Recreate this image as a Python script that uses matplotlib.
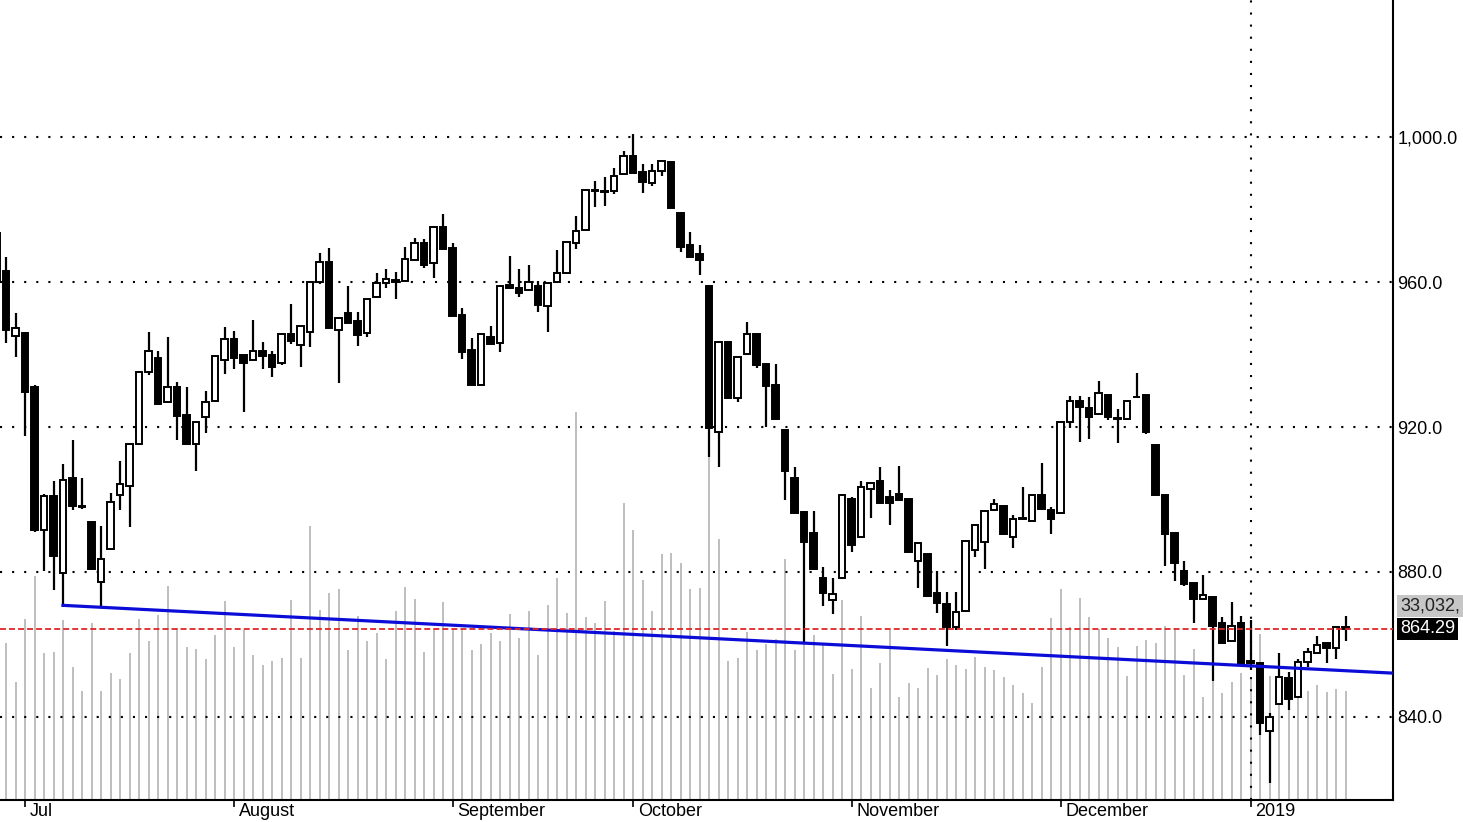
import matplotlib
matplotlib.use('Agg')
import matplotlib.pyplot as plt
import numpy as np

plt.rcParams['font.family'] = ['Liberation Sans', 'DejaVu Sans']

# daily candles, first one is only partly on screen
opens = [973.6, 963.0, 945.1, 946.0, 931.1, 891.6, 901.0, 879.8, 906.0, 898.3,
         893.9, 877.2, 886.3, 901.2, 903.7, 915.2, 935.3, 938.9, 926.9, 931.1,
         923.3, 915.2, 922.7, 927.2, 938.4, 944.4, 939.9, 938.4, 941.0, 939.9,
         937.6, 945.6, 942.5, 946.3, 959.9, 965.4, 946.8, 951.4, 949.3, 946.0,
         955.8, 959.8, 960.5, 960.4, 966.1, 970.8, 965.3, 975.3, 969.3, 950.9,
         941.2, 931.6, 944.7, 943.3, 959.3, 958.4, 957.8, 958.9, 953.4, 959.9,
         962.4, 970.7, 974.4, 985.3, 985.2, 985.2, 989.8, 994.8, 990.3, 987.2,
         990.5, 993.2, 979.1, 970.1, 967.6, 958.9, 918.5, 943.5, 928.1, 940.1,
         945.6, 937.4, 931.6, 919.2, 905.8, 896.5, 890.7, 878.3, 872.3, 878.4,
         900.1, 889.6, 902.8, 905.1, 900.6, 901.4, 900.1, 883.1, 884.9, 874.1,
         871.2, 864.8, 869.3, 886.1, 888.4, 897.1, 898.2, 889.6, 895.0, 894.2,
         901.2, 897.1, 896.2, 921.5, 927.3, 925.2, 923.6, 928.7, 922.4, 922.2,
         928.4, 928.7, 915.0, 901.2, 890.7, 880.3, 876.9, 872.6, 873.2, 865.9,
         861.1, 865.9, 855.5, 854.8, 836.2, 843.6, 850.7, 845.5, 855.1, 857.6,
         860.3, 858.9, 864.7]
highs = [975.0, 966.9, 951.4, 946.3, 931.5, 901.5, 905.1, 909.7, 916.4, 906.0,
         894.2, 892.7, 901.7, 910.6, 915.6, 935.5, 946.1, 941.0, 944.9, 932.4,
         931.1, 921.5, 929.9, 940.0, 947.7, 946.5, 940.0, 949.5, 943.5, 941.0,
         946.0, 953.9, 948.0, 960.3, 967.9, 969.3, 950.4, 958.9, 951.7, 955.4,
         962.6, 963.5, 962.7, 969.6, 972.1, 971.9, 975.5, 978.7, 970.8, 952.9,
         944.5, 945.8, 947.9, 959.1, 967.2, 963.5, 964.7, 960.3, 959.8, 968.8,
         971.3, 978.3, 985.6, 987.9, 989.0, 991.5, 996.1, 1000.7, 992.5, 992.5,
         993.7, 993.4, 979.3, 973.8, 970.1, 959.1, 943.7, 943.7, 939.6, 949.0,
         945.8, 937.6, 937.3, 919.4, 909.0, 896.7, 896.8, 881.5, 878.4, 901.4,
         900.8, 905.1, 904.8, 908.9, 902.6, 909.3, 900.3, 888.3, 885.1, 880.4,
         874.4, 874.4, 888.8, 893.2, 897.0, 900.1, 898.4, 895.7, 903.5, 901.4,
         910.0, 898.0, 921.7, 928.6, 928.6, 928.2, 932.8, 928.9, 924.9, 927.5,
         934.8, 928.9, 915.2, 901.4, 890.9, 883.1, 877.1, 879.2, 873.4, 867.5,
         871.8, 867.9, 866.8, 855.0, 841.2, 857.7, 852.3, 856.0, 859.1, 862.3,
         860.5, 865.1, 867.9]
lows = [958.0, 943.2, 939.4, 917.5, 891.0, 880.4, 875.0, 870.4, 897.0, 897.5,
        880.5, 870.4, 886.0, 897.0, 892.5, 915.0, 934.3, 926.2, 926.5, 916.4,
        915.0, 908.0, 918.4, 927.0, 934.5, 935.9, 924.2, 938.2, 935.9, 933.9,
        937.2, 942.9, 936.6, 942.1, 959.4, 947.2, 932.1, 948.6, 942.4, 944.9,
        955.6, 958.3, 955.2, 960.2, 965.9, 963.9, 961.0, 968.8, 950.5, 938.7,
        931.4, 931.3, 942.7, 940.8, 958.1, 955.8, 957.6, 951.6, 946.1, 959.7,
        962.2, 969.0, 974.2, 980.6, 981.0, 984.3, 989.6, 990.0, 984.6, 986.5,
        989.2, 980.3, 968.4, 966.8, 961.8, 911.8, 909.0, 927.7, 927.0, 939.9,
        936.2, 920.1, 922.0, 900.0, 896.0, 860.8, 880.6, 870.6, 868.4, 878.2,
        885.6, 889.4, 894.8, 898.7, 892.9, 899.7, 885.2, 875.5, 873.2, 868.8,
        859.7, 864.1, 869.1, 884.0, 880.8, 897.0, 890.2, 886.5, 894.4, 894.0,
        897.2, 890.5, 896.0, 919.6, 915.9, 916.7, 923.4, 922.0, 915.5, 922.0,
        928.0, 918.2, 901.0, 881.7, 877.5, 876.2, 865.9, 872.4, 850.0, 860.3,
        860.9, 854.6, 853.0, 835.0, 821.7, 843.4, 841.9, 845.3, 853.7, 857.4,
        854.8, 856.0, 860.9]
closes = [960.6, 946.8, 947.4, 929.6, 891.6, 901.0, 884.4, 905.4, 898.3, 898.0,
          880.8, 883.5, 899.2, 904.2, 915.4, 935.3, 941.0, 926.4, 931.1, 923.0,
          915.2, 921.3, 927.0, 939.6, 944.4, 938.9, 937.6, 941.0, 939.6, 936.6,
          945.6, 943.8, 947.9, 960.1, 965.4, 947.4, 950.2, 948.8, 945.4, 955.2,
          959.6, 960.9, 960.0, 966.3, 970.8, 964.8, 975.3, 969.0, 950.7, 940.8,
          931.6, 945.6, 942.9, 958.9, 958.3, 957.0, 960.0, 953.6, 959.6, 962.6,
          971.1, 974.2, 985.4, 985.0, 984.8, 989.3, 994.8, 990.2, 987.7, 990.6,
          993.5, 980.5, 969.7, 967.0, 966.1, 919.6, 943.5, 927.9, 939.4, 945.6,
          937.1, 931.3, 922.2, 907.9, 896.2, 888.2, 880.8, 874.1, 873.9, 901.2,
          887.4, 903.4, 904.6, 898.9, 898.9, 899.9, 885.4, 888.1, 873.4, 871.4,
          864.8, 869.0, 888.6, 893.0, 896.8, 898.8, 890.4, 894.6, 894.7, 901.2,
          897.4, 894.5, 921.5, 927.3, 925.6, 922.7, 929.5, 922.7, 922.2, 927.3,
          928.2, 918.5, 901.2, 890.5, 882.6, 876.7, 872.5, 873.7, 865.2, 860.5,
          865.2, 854.8, 855.0, 838.3, 840.0, 851.1, 844.9, 855.3, 857.8, 859.9,
          858.9, 864.9, 864.29]
# volume in thousands
volumes = [45000, 47700, 35800, 54800, 68000, 44500, 44900, 54500, 40400, 33100,
           53500, 33100, 38600, 36800, 44500, 54800, 48200, 56100, 64900, 52000,
           46300, 45800, 42600, 50000, 60300, 46300, 51500, 43900, 40800, 42200,
           43100, 60600, 43100, 83000, 57600, 62600, 64000, 45500, 55800, 48200,
           50700, 42600, 57300, 64500, 60800, 44900, 51900, 60000, 51800, 51900,
           45500, 47200, 50500, 48200, 56400, 49100, 57300, 43900, 59100, 67200,
           56600, 117700, 55500, 53500, 60300, 51300, 89900, 81800, 66700, 57300,
           74500, 74900, 71700, 63900, 64200, 104500, 79000, 42200, 42900, 50800,
           45400, 47200, 48700, 72900, 45500, 57600, 50000, 47500, 38200, 60600,
           39600, 55800, 33800, 41400, 51500, 31300, 35500, 33800, 39900, 37900,
           42600, 40900, 39700, 43400, 40400, 39400, 37300, 34800, 32400, 29400,
           40300, 55200, 63900, 52400, 61200, 55500, 51800, 49100, 46400, 37600,
           46700, 48500, 47600, 52700, 52100, 37900, 45800, 31200, 39400, 32400,
           35800, 38500, 37000, 50300, 37600, 33300, 27300, 31200, 33000, 34800,
           32700, 33600, 33032]

month_idx = [3, 25, 48, 67, 90, 112, 132]
month_labels = ['Jul', 'August', 'September', 'October', 'November', 'December', '2019']
year_idx = 132
price_ticks = [840, 880, 920, 960, 1000]
last_price = 864.29
last_volume_text = '33,032,'
trend_idx = [7, 147]
trend_price = [870.8, 852.1]

W, H = 1463, 822
fig = plt.figure(figsize=(W / 100, H / 100), dpi=100)
rect = [0, 22 / H, 1393 / W, 800 / H]
xlim = (0.368, 147.0)

x = np.arange(len(opens))
o = np.array(opens)
c = np.array(closes)

# volume underneath
axv = fig.add_axes(rect)
axv.vlines(x, 0, volumes, color='#b9b9b9', linewidth=1.3)
axv.set_xlim(*xlim)
axv.set_ylim(0, 242400)
axv.axis('off')

ax = fig.add_axes(rect, facecolor='none')
ax.set_xlim(*xlim)
ax.set_ylim(817.1, 1037.8)

# dotted grid
for p in price_ticks:
    ax.axhline(p, color='black', linewidth=1.5, linestyle=(0, (1, 4.8)), zorder=1)
ax.axvline(year_idx, color='black', linewidth=1.5, linestyle=(0, (1, 4.8)), zorder=1)

# candles
ax.vlines(x, lows, highs, color='black', linewidth=1.6, zorder=3)
down = c < o
ax.bar(x, np.abs(c - o), bottom=np.minimum(o, c), width=0.68,
       color=np.where(down, 'black', 'white'), edgecolor='black',
       linewidth=1.4, zorder=4)

# trend line and last price
ax.plot(trend_idx, trend_price, color='#0c0cd8', linewidth=2.3, zorder=5)
ax.axhline(last_price, color='#e02626', linewidth=1.3,
           linestyle=(0, (3.3, 1.7)), zorder=5)

# axes styling
for s in ['top', 'left']:
    ax.spines[s].set_visible(False)
ax.spines['right'].set_linewidth(1.5)
ax.spines['bottom'].set_linewidth(1.5)
ax.yaxis.tick_right()
ax.set_yticks(price_ticks)
ax.set_yticklabels([f'{p:,.1f}' for p in price_ticks])
ax.tick_params(axis='y', length=0, pad=3, labelsize=13)
ax.set_xticks(month_idx)
ax.set_xticklabels([])
ax.tick_params(axis='x', length=5, width=1.2, direction='out')

for i, lab in zip(month_idx, month_labels):
    ax.annotate(lab, xy=(i, 0), xycoords=('data', 'axes fraction'),
                xytext=(3.5, -11.5), textcoords='offset points',
                ha='left', va='baseline', fontsize=13)

# value tags at the right edge
ax.annotate(last_volume_text, xy=(1.0, 0.2425), xycoords='axes fraction',
            xytext=(5, 0), textcoords='offset points', ha='left', va='center',
            fontsize=13, color='#222222', annotation_clip=False,
            bbox=dict(boxstyle='square,pad=0.15', facecolor='#c6c6c6', edgecolor='none'))
ax.annotate(f'{last_price:.2f}', xy=(1.0, last_price), xycoords=('axes fraction', 'data'),
            xytext=(5, 0), textcoords='offset points', ha='left', va='center',
            fontsize=13, color='white', annotation_clip=False,
            bbox=dict(boxstyle='square,pad=0.15', facecolor='black', edgecolor='none'))

fig.savefig('out.png', dpi=100)
